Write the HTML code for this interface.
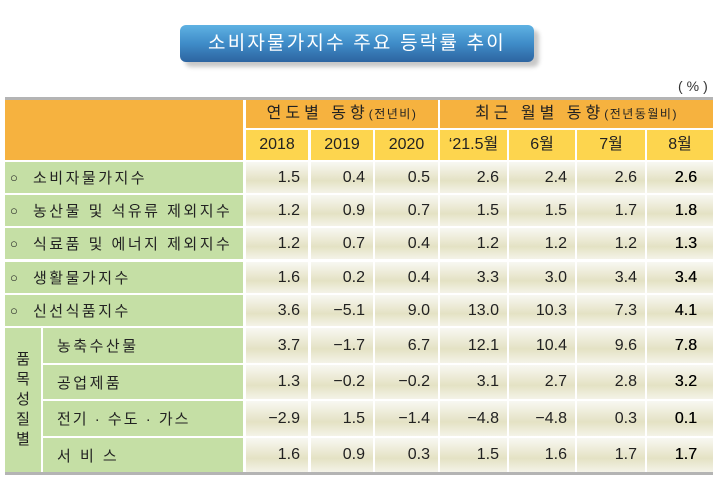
<!DOCTYPE html>
<html><head><meta charset="utf-8">
<style>
html,body{margin:0;padding:0;background:#fff;}
body{width:720px;height:482px;position:relative;overflow:hidden;font-family:"Liberation Sans","Noto Sans CJK KR",sans-serif;color:#222;}
.a{position:absolute;box-sizing:border-box;}
.title{left:180px;top:25px;width:354px;height:37px;border-radius:6px;background:linear-gradient(to bottom,#5fb2e3 0%,#3f8cc8 50%,#2d64a0 100%);box-shadow:5px 5px 4px rgba(0,0,0,0.22);color:#fff;font-size:19px;letter-spacing:2.2px;text-align:center;line-height:37px;}
.pct{left:678px;top:78px;font-size:14px;color:#333;letter-spacing:4px;}
.line{background:#b4b4b4;}
.or{background:#f6b23f;}
.ye{background:#fdd54e;font-size:16px;color:#222;text-align:center;line-height:30px;}
.hd{font-size:16px;letter-spacing:4px;text-align:center;line-height:28px;color:#222;}
.hd small{font-size:12px;letter-spacing:1.5px;}
.row{position:absolute;left:0;width:720px;}
.g{position:absolute;box-sizing:border-box;top:0;height:100%;background:#c5dfa5;font-size:15px;letter-spacing:2.5px;color:#222;display:flex;align-items:center;white-space:nowrap;}
.d{position:absolute;box-sizing:border-box;top:0;height:100%;background:linear-gradient(to bottom,#f8f8f2 0%,#ebe9d3 40%,#e4e2c4 60%,#f4f3e8 100%);font-size:16px;text-align:right;padding-right:8px;display:flex;align-items:center;justify-content:flex-end;color:#222;}
.c1{left:246px;width:62px}
.c2{left:311px;width:62px}
.c3{left:375px;width:63px}
.c4{left:440px;width:67px}
.c5{left:509px;width:66px}
.c6{left:577px;width:68px}
.c7{left:647px;width:66px;padding-right:16px;color:#000;text-shadow:0.25px 0 0 #000}
.lab{left:5px;width:238px;padding-left:5px}
.lab .o{font-size:13px;width:23px;display:inline-block;letter-spacing:0}
.sub{left:43px;width:200px;padding-left:14px}
</style></head><body>
<div class="a title">소비자물가지수 주요 등락률 추이</div>
<div class="a pct">(%)</div>

<div class="a line" style="left:5px;top:97px;width:708px;height:3px"></div>
<div class="a or" style="left:5px;top:100px;width:238px;height:60px"></div>
<div class="a or hd" style="left:246px;top:100px;width:192px;height:28px">연도별 동향<small>(전년비)</small></div>
<div class="a or hd" style="left:440px;top:100px;width:273px;height:28px">최근 월별 동향<small>(전년동월비)</small></div>

<div class="a ye c1" style="top:130px;height:30px">2018</div>
<div class="a ye c2" style="top:130px;height:30px">2019</div>
<div class="a ye c3" style="top:130px;height:30px">2020</div>
<div class="a ye c4" style="top:130px;height:30px">‘21.5월</div>
<div class="a ye c5" style="top:130px;height:30px">6월</div>
<div class="a ye c6" style="top:130px;height:30px">7월</div>
<div class="a ye" style="left:647px;width:66px;top:130px;height:30px">8월</div>

<div class="row" style="top:162px;height:31px">
<div class="g lab"><span class="o">○</span>소비자물가지수</div>
<div class="d c1">1.5</div><div class="d c2">0.4</div><div class="d c3">0.5</div><div class="d c4">2.6</div><div class="d c5">2.4</div><div class="d c6">2.6</div><div class="d c7">2.6</div>
</div>
<div class="row" style="top:195px;height:31px">
<div class="g lab"><span class="o">○</span>농산물 및 석유류 제외지수</div>
<div class="d c1">1.2</div><div class="d c2">0.9</div><div class="d c3">0.7</div><div class="d c4">1.5</div><div class="d c5">1.5</div><div class="d c6">1.7</div><div class="d c7">1.8</div>
</div>
<div class="row" style="top:228px;height:31px">
<div class="g lab"><span class="o">○</span>식료품 및 에너지 제외지수</div>
<div class="d c1">1.2</div><div class="d c2">0.7</div><div class="d c3">0.4</div><div class="d c4">1.2</div><div class="d c5">1.2</div><div class="d c6">1.2</div><div class="d c7">1.3</div>
</div>
<div class="row" style="top:262px;height:31px">
<div class="g lab"><span class="o">○</span>생활물가지수</div>
<div class="d c1">1.6</div><div class="d c2">0.2</div><div class="d c3">0.4</div><div class="d c4">3.3</div><div class="d c5">3.0</div><div class="d c6">3.4</div><div class="d c7">3.4</div>
</div>
<div class="row" style="top:295px;height:31px">
<div class="g lab"><span class="o">○</span>신선식품지수</div>
<div class="d c1">3.6</div><div class="d c2">−5.1</div><div class="d c3">9.0</div><div class="d c4">13.0</div><div class="d c5">10.3</div><div class="d c6">7.3</div><div class="d c7">4.1</div>
</div>

<div class="a" style="left:5px;top:328px;width:36px;height:144px;background:#c5dfa5;font-size:15px;line-height:20px;text-align:center;display:flex;align-items:center;justify-content:center;color:#222"><div>품<br>목<br>성<br>질<br>별</div></div>

<div class="row" style="top:328px;height:35px">
<div class="g sub">농축수산물</div>
<div class="d c1">3.7</div><div class="d c2">−1.7</div><div class="d c3">6.7</div><div class="d c4">12.1</div><div class="d c5">10.4</div><div class="d c6">9.6</div><div class="d c7">7.8</div>
</div>
<div class="row" style="top:365px;height:34px">
<div class="g sub">공업제품</div>
<div class="d c1">1.3</div><div class="d c2">−0.2</div><div class="d c3">−0.2</div><div class="d c4">3.1</div><div class="d c5">2.7</div><div class="d c6">2.8</div><div class="d c7">3.2</div>
</div>
<div class="row" style="top:401px;height:35px">
<div class="g sub" style="letter-spacing:2px">전기 · 수도 · 가스</div>
<div class="d c1">−2.9</div><div class="d c2">1.5</div><div class="d c3">−1.4</div><div class="d c4">−4.8</div><div class="d c5">−4.8</div><div class="d c6">0.3</div><div class="d c7">0.1</div>
</div>
<div class="row" style="top:438px;height:34px">
<div class="g sub">서 비 스</div>
<div class="d c1">1.6</div><div class="d c2">0.9</div><div class="d c3">0.3</div><div class="d c4">1.5</div><div class="d c5">1.6</div><div class="d c6">1.7</div><div class="d c7">1.7</div>
</div>
<div class="a line" style="left:5px;top:472px;width:708px;height:3px"></div>
</body></html>
